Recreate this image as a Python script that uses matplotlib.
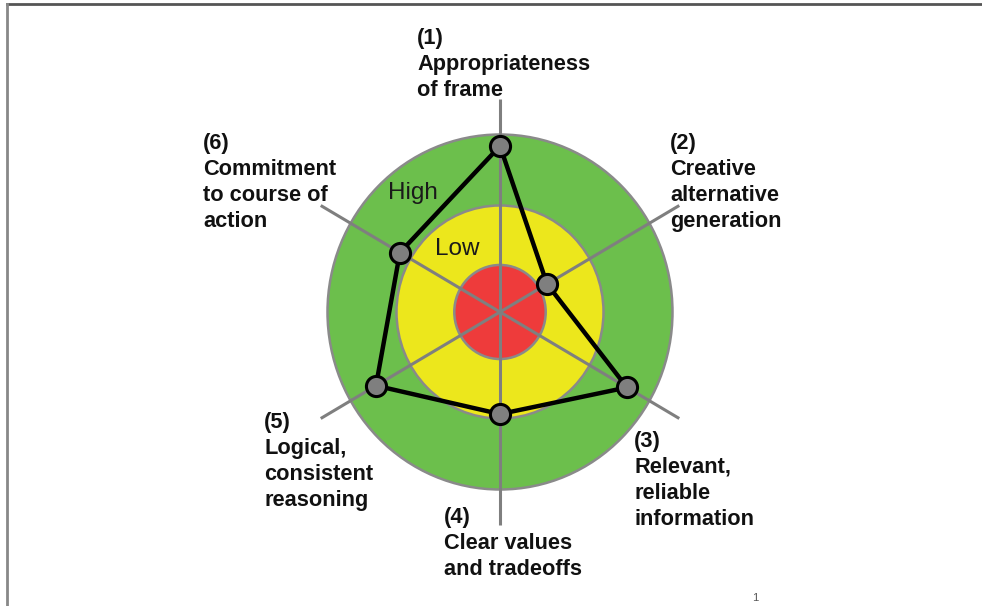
import numpy as np
import matplotlib
matplotlib.use('Agg')
import matplotlib.pyplot as plt
from matplotlib.patches import Ellipse
from matplotlib.lines import Line2D

plt.rcParams['font.family'] = ['Liberation Sans', 'DejaVu Sans']

# --- data -----------------------------------------------------------
criteria = ['(1)\nAppropriateness\nof frame',
            '(2)\nCreative\nalternative\ngeneration',
            '(3)\nRelevant,\nreliable\ninformation',
            '(4)\nClear values\nand tradeoffs',
            '(5)\nLogical,\nconsistent\nreasoning',
            '(6)\nCommitment\nto course of\naction']
scores = [9.35, 3.15, 8.5, 5.75, 8.3, 6.7]       # 0 = centre, 10 = outer ring
ring_radii = [10.0, 6.0, 2.65]                    # green, yellow, red
ring_colors = ['#6cbf4c', '#ece71c', '#ee3b3b']
ring_names = ['High', 'Low']
spoke_len = 12.0

# --- layout (figure pixels, top-left origin) -------------------------
W, H = 982, 606
label_xy = [(417, 28), (670, 133), (634, 431), (444, 507), (264, 412), (203, 133)]
ring_name_xy = [(413, 193), (457, 249)]

fig = plt.figure(figsize=(W / 100, H / 100), dpi=100)
ax = fig.add_axes([0, 0, 1, 1])
cx, cy, sx, sy = 500, 312, 17.25, 17.75
ax.set_xlim(-cx / sx, (W - cx) / sx)
ax.set_ylim(-(H - cy) / sy, cy / sy)
ax.axis('off')

for i, (r, col) in enumerate(zip(ring_radii, ring_colors)):
    ax.add_patch(Ellipse((0, 0), 2 * r, 2 * r, facecolor=col,
                         edgecolor='#8a8a8a', lw=1.8, zorder=1 + i))

ang = np.deg2rad(90 - 60 * np.arange(len(scores)))
for a in ang:
    ax.plot([0, spoke_len * np.cos(a)], [0, spoke_len * np.sin(a)],
            color='#7f7f7f', lw=2.2, zorder=4, solid_capstyle='butt')

s = np.array(scores)
px, py = s * np.cos(ang), s * np.sin(ang)
ax.plot(np.append(px, px[0]), np.append(py, py[0]), color='black', lw=3.2, zorder=5)
ax.plot(px, py, 'o', ms=14.5, mfc='#7f7f7f', mec='black', mew=2.2, zorder=6)

for txt, (x, y) in zip(criteria, label_xy):
    fig.text(x / W, 1 - y / H, txt, ha='left', va='top', fontsize=15.7,
             fontweight='bold', linespacing=1.31, color='#111111')
for txt, (x, y) in zip(ring_names, ring_name_xy):
    fig.text(x / W, 1 - y / H, txt, ha='center', va='center', fontsize=17.5,
             color='#1a1a1a')

fig.text(755 / W, 1 - 598 / H, '1', ha='center', va='center', fontsize=8, color='#555555')

# slide frame
fig.add_artist(Line2D([7 / W, 1], [1 - 4 / H, 1 - 4 / H], color='#555555', lw=2))
fig.add_artist(Line2D([7 / W, 7 / W], [1 - 4 / H, 0], color='#888888', lw=2))

fig.savefig('out.png', dpi=100)
